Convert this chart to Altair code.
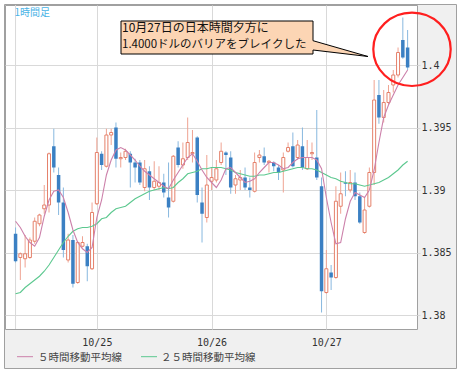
import altair as alt
import pandas as pd

# ---- data (EUR/USD 1-hour candles) ----
start_time = "2011-10-24 07:00"
opens = [1.3865, 1.3846, 1.3845, 1.3846, 1.3859, 1.3873, 1.3885, 1.3888, 1.3935, 1.3912,
         1.3890, 1.3844, 1.3860, 1.3826, 1.3855, 1.3855, 1.3837, 1.3889, 1.3929, 1.3919,
         1.3944, 1.3950, 1.3925, 1.3926, 1.3929, 1.3922, 1.3922, 1.3902, 1.3915, 1.3902,
         1.3903, 1.3906, 1.3894, 1.3891, 1.3934, 1.3920, 1.3926, 1.3929, 1.3942, 1.3890,
         1.3878, 1.3907, 1.3908, 1.3922, 1.3930, 1.3926, 1.3904, 1.3908, 1.3910, 1.3902,
         1.3899, 1.3926, 1.3927, 1.3922, 1.3922, 1.3918, 1.3916, 1.3931, 1.3935, 1.3926,
         1.3935, 1.3917, 1.3929, 1.3926, 1.3903, 1.3818, 1.3834, 1.3830, 1.3887, 1.3906,
         1.3900, 1.3906, 1.3895, 1.3866, 1.3887, 1.3914, 1.3976, 1.3958, 1.3970, 1.3984,
         1.3992, 1.4020, 1.4014]
highs = [1.3870, 1.3850, 1.3864, 1.3862, 1.3878, 1.3881, 1.3904, 1.3930, 1.3949, 1.3918,
         1.3902, 1.3865, 1.3864, 1.3859, 1.3863, 1.3857, 1.3890, 1.3942, 1.3931, 1.3949,
         1.3949, 1.3954, 1.3930, 1.3933, 1.3931, 1.3925, 1.3924, 1.3924, 1.3919, 1.3923,
         1.3919, 1.3913, 1.3922, 1.3928, 1.3939, 1.3938, 1.3958, 1.3948, 1.3943, 1.3902,
         1.3928, 1.3918, 1.3924, 1.3938, 1.3931, 1.3931, 1.3912, 1.3916, 1.3918, 1.3910,
         1.3930, 1.3932, 1.3934, 1.3924, 1.3923, 1.3920, 1.3930, 1.3938, 1.3946, 1.3940,
         1.3950, 1.3940, 1.3938, 1.3964, 1.3910, 1.3852, 1.3840, 1.3903, 1.3914, 1.3915,
         1.3916, 1.3914, 1.3898, 1.3894, 1.3918, 1.3988, 1.3988, 1.3980, 1.3984, 1.3996,
         1.4014, 1.4038, 1.4028]
lows = [1.3842, 1.3828, 1.3838, 1.3845, 1.3857, 1.3871, 1.3881, 1.3882, 1.3914, 1.3880,
        1.3846, 1.3842, 1.3822, 1.3825, 1.3854, 1.3827, 1.3836, 1.3888, 1.3916, 1.3918,
        1.3936, 1.3918, 1.3918, 1.3924, 1.3902, 1.3906, 1.3904, 1.3899, 1.3892, 1.3900,
        1.3900, 1.3894, 1.3878, 1.3890, 1.3918, 1.3917, 1.3924, 1.3922, 1.3890, 1.3858,
        1.3874, 1.3900, 1.3906, 1.3920, 1.3912, 1.3897, 1.3897, 1.3900, 1.3900, 1.3894,
        1.3898, 1.3922, 1.3920, 1.3914, 1.3915, 1.3908, 1.3898, 1.3930, 1.3918, 1.3924,
        1.3916, 1.3916, 1.3924, 1.3908, 1.3802, 1.3817, 1.3820, 1.3829, 1.3881, 1.3895,
        1.3898, 1.3892, 1.3873, 1.3865, 1.3886, 1.3904, 1.3953, 1.3954, 1.3968, 1.3978,
        1.3990, 1.4005, 1.3996]
closes = [1.3843, 1.3849, 1.3849, 1.3860, 1.3875, 1.3880, 1.3888, 1.3929, 1.3918, 1.3890,
          1.3852, 1.3860, 1.3825, 1.3858, 1.3858, 1.3839, 1.3882, 1.3930, 1.3920, 1.3944,
          1.3946, 1.3925, 1.3926, 1.3931, 1.3922, 1.3918, 1.3906, 1.3917, 1.3902, 1.3907,
          1.3906, 1.3898, 1.3886, 1.3927, 1.3920, 1.3925, 1.3938, 1.3930, 1.3896, 1.3881,
          1.3904, 1.3910, 1.3917, 1.3931, 1.3928, 1.3902, 1.3909, 1.3910, 1.3902, 1.3900,
          1.3922, 1.3928, 1.3922, 1.3923, 1.3919, 1.3914, 1.3926, 1.3934, 1.3919, 1.3936,
          1.3918, 1.3926, 1.3930, 1.3910, 1.3819, 1.3837, 1.3830, 1.3891, 1.3897, 1.3905,
          1.3906, 1.3895, 1.3874, 1.3884, 1.3914, 1.3972, 1.3958, 1.3970, 1.3978, 1.3992,
          1.4010, 1.4006, 1.3998]
ma5 = [1.3875, 1.3870, 1.3863, 1.3858, 1.3855, 1.3862, 1.3879, 1.3892, 1.3899, 1.3900,
       1.3894, 1.3882, 1.3868, 1.3858, 1.3853, 1.3850, 1.3854, 1.3878, 1.3892, 1.3912,
       1.3924, 1.3932, 1.3934, 1.3932, 1.3928, 1.3924, 1.3919, 1.3915, 1.3912, 1.3909,
       1.3906, 1.3903, 1.3901, 1.3908, 1.3914, 1.3920, 1.3926, 1.3929, 1.3923, 1.3916,
       1.3910, 1.3906, 1.3902, 1.3908, 1.3917, 1.3918, 1.3914, 1.3910, 1.3906, 1.3907,
       1.3909, 1.3914, 1.3918, 1.3922, 1.3922, 1.3920, 1.3917, 1.3918, 1.3922, 1.3925,
       1.3926, 1.3926, 1.3926, 1.3924, 1.3917, 1.3894, 1.3874, 1.3857, 1.3858, 1.3877,
       1.3891, 1.3898, 1.3896, 1.3894, 1.3900, 1.3916, 1.3938, 1.3958, 1.3968, 1.3976,
       1.3984, 1.3990, 1.3996]
ma25 = [1.3817, 1.3818, 1.3822, 1.3825, 1.3828, 1.3831, 1.3835, 1.3840, 1.3846, 1.3852,
        1.3858, 1.3863, 1.3867, 1.3869, 1.3870, 1.3870, 1.3871, 1.3873, 1.3877, 1.3878,
        1.3882, 1.3885, 1.3886, 1.3887, 1.3890, 1.3893, 1.3895, 1.3897, 1.3899, 1.3900,
        1.3901, 1.3902, 1.3901, 1.3902, 1.3906, 1.3909, 1.3913, 1.3914, 1.3915, 1.3917,
        1.3917, 1.3918, 1.3918, 1.3918, 1.3917, 1.3916, 1.3914, 1.3913, 1.3912, 1.3911,
        1.3911, 1.3912, 1.3912, 1.3913, 1.3914, 1.3914, 1.3915, 1.3916, 1.3917, 1.3918,
        1.3918, 1.3917, 1.3917, 1.3916, 1.3914, 1.3912, 1.3910, 1.3909, 1.3907, 1.3906,
        1.3905, 1.3905, 1.3904, 1.3903, 1.3904, 1.3905, 1.3906, 1.3908, 1.3910, 1.3913,
        1.3916, 1.3920, 1.3923]

day_ticks = ["2011-10-25", "2011-10-26", "2011-10-27"]
y_ticks = [1.38, 1.385, 1.39, 1.395, 1.4]
legend_labels = ["５時間移動平均線", "２５時間移動平均線"]
ann_lines = ["10月27日の日本時間夕方に", "1.4000ドルのバリアをブレイクした"]
timeframe_label = "1時間足"

# ---- styles ----
GRID = "#d9d9d9"
FRAME = "#a0a0a0"
UP_BODY = "#e5806a"
UP_WICK = "#efa392"
DN_BODY = "#3b80c3"
DN_WICK = "#88b8df"
PINK = "#cc80aa"
GREEN = "#5cc88f"
MONO = "DejaVu Sans Mono"
JP = "Noto Sans CJK JP"

times = pd.date_range(start_time, periods=len(opens), freq="h", tz="UTC")
iso = [t.strftime("%Y-%m-%dT%H:%M:%SZ") for t in times]
df = pd.DataFrame(dict(t=iso, open=opens, high=highs, low=lows, close=closes,
                       ma5=ma5, ma25=ma25))
df["dir"] = ["up" if c >= o else "down" for o, c in zip(opens, closes)]


def ms(ts):
    return int(ts.value // 10**6)


t0 = times[0]
x_domain = [ms(t0 - pd.Timedelta(hours=1.1633)), ms(t0 + pd.Timedelta(hours=82.918))]
x_vals = [ms(pd.Timestamp(d, tz="UTC")) for d in day_ticks]

xscale = alt.Scale(type="utc", domain=x_domain)
xaxis = alt.Axis(values=x_vals, labelExpr="utcFormat(datum.value, '%m/%d')", grid=True,
                 gridColor=GRID, gridWidth=1, ticks=False, domain=False,
                 labelPadding=8, labelFont=MONO, labelFontSize=10,
                 labelColor="#333333", labelOverlap=False, title=None)
X = alt.X("t:T", scale=xscale, axis=xaxis)

yscale = alt.Scale(domain=[1.37888, 1.4048], nice=False, zero=False)
yaxis = alt.Axis(orient="right", values=y_ticks, format=".3~f", grid=True,
                 gridColor=GRID, gridWidth=1, tickColor=GRID, tickSize=3,
                 domain=False, labelPadding=1, labelFont=MONO, labelFontSize=10,
                 labelColor="#333333", title=None)


def Y(field):
    return alt.Y(f"{field}:Q", scale=yscale, axis=yaxis)


base = alt.Chart(df)

first_rule = alt.Chart(pd.DataFrame({"t": [iso[0]]})).mark_rule(
    color=GRID, strokeWidth=1).encode(x=X)

wicks = base.mark_rule(strokeWidth=1).encode(
    x=X, y=Y("low"), y2="high:Q",
    color=alt.Color("dir:N", scale=alt.Scale(domain=["up", "down"],
                                             range=[UP_WICK, DN_WICK]), legend=None))

up_bodies = base.transform_filter(alt.datum.dir == "up").mark_bar(
    size=3, fill="white", stroke=UP_BODY, strokeWidth=1).encode(
    x=X, y=Y("open"), y2="close:Q")

dn_bodies = base.transform_filter(alt.datum.dir == "down").mark_bar(
    size=3.5, color=DN_BODY).encode(x=X, y=Y("open"), y2="close:Q")

ma25_line = base.mark_line(color=GREEN, strokeWidth=1.1).encode(x=X, y=Y("ma25"))
ma5_line = base.mark_line(color=PINK, strokeWidth=1.1).encode(x=X, y=Y("ma5"))

one = pd.DataFrame({"k": [0]})

margin = alt.Chart(one).mark_rect(fillOpacity=0, stroke="white", strokeWidth=20).encode(
    x=alt.value(-10.5), x2=alt.value(461.5), y=alt.value(-10.5), y2=alt.value(373.5))
frame = alt.Chart(one).mark_rect(fillOpacity=0, stroke=FRAME, strokeWidth=1).encode(
    x=alt.value(-0.5), x2=alt.value(451.5), y=alt.value(-0.5), y2=alt.value(363.5))

CALLOUT_PATH = "M116,16H308V35.7L363,51.5L308,45V49H116Z"
callout = alt.Chart(one).mark_point(
    shape=CALLOUT_PATH, size=4, filled=True, fill="#fcd5b4", stroke="#000000",
    strokeWidth=1, opacity=1).encode(x=alt.value(0), y=alt.value(0))

ELLIPSE_PATH = "M-38.7,0A38.7,36.7 0 1,1 38.7,0A38.7,36.7 0 1,1 -38.7,0Z"
ellipse = alt.Chart(one).mark_point(
    shape=ELLIPSE_PATH, size=4, filled=False, stroke="#ff1f1f", strokeWidth=2.2,
    opacity=1).encode(x=alt.value(407), y=alt.value(44.3))

ann1 = alt.Chart(pd.DataFrame({"txt": [ann_lines[0]]})).mark_text(
    align="left", baseline="middle", font=JP, fontSize=12, color="#111111").encode(
    x=alt.value(117), y=alt.value(22.5), text="txt:N")
ann2 = alt.Chart(pd.DataFrame({"txt": [ann_lines[1]]})).mark_text(
    align="left", baseline="middle", font=JP, fontSize=11.5, color="#111111").encode(
    x=alt.value(117), y=alt.value(39.7), text="txt:N")

tf_text = alt.Chart(pd.DataFrame({"txt": [timeframe_label]})).mark_text(
    align="left", baseline="middle", font=JP, fontSize=10, color="#4ab3e6").encode(
    x=alt.value(9.5), y=alt.value(7.5), text="txt:N")

leg_rule1 = alt.Chart(one).mark_rule(color=PINK, strokeWidth=1).encode(
    x=alt.value(12), x2=alt.value(28), y=alt.value(351.7))
leg_rule2 = alt.Chart(one).mark_rule(color=GREEN, strokeWidth=1).encode(
    x=alt.value(136), x2=alt.value(152), y=alt.value(351.7))
leg_text1 = alt.Chart(pd.DataFrame({"txt": [legend_labels[0]]})).mark_text(
    align="left", baseline="middle", font=JP, fontSize=10.5, color="#444444").encode(
    x=alt.value(33), y=alt.value(353), text="txt:N")
leg_text2 = alt.Chart(pd.DataFrame({"txt": [legend_labels[1]]})).mark_text(
    align="left", baseline="middle", font=JP, fontSize=10.5, color="#444444").encode(
    x=alt.value(156), y=alt.value(353), text="txt:N")

chart = alt.layer(
    first_rule, wicks, up_bodies, dn_bodies, ma25_line, ma5_line,
    margin, frame, callout, ellipse, ann1, ann2, tf_text,
    leg_rule1, leg_rule2, leg_text1, leg_text2,
).properties(
    width=412, height=324, background="#f0f0f0",
    padding={"left": 5, "top": 5, "right": 43, "bottom": 43},
    autosize=alt.AutoSizeParams(type="none"),
).configure_view(fill="white", stroke=FRAME, strokeWidth=1)

chart.save("out.html", embed_options={"renderer": "svg", "actions": False})
